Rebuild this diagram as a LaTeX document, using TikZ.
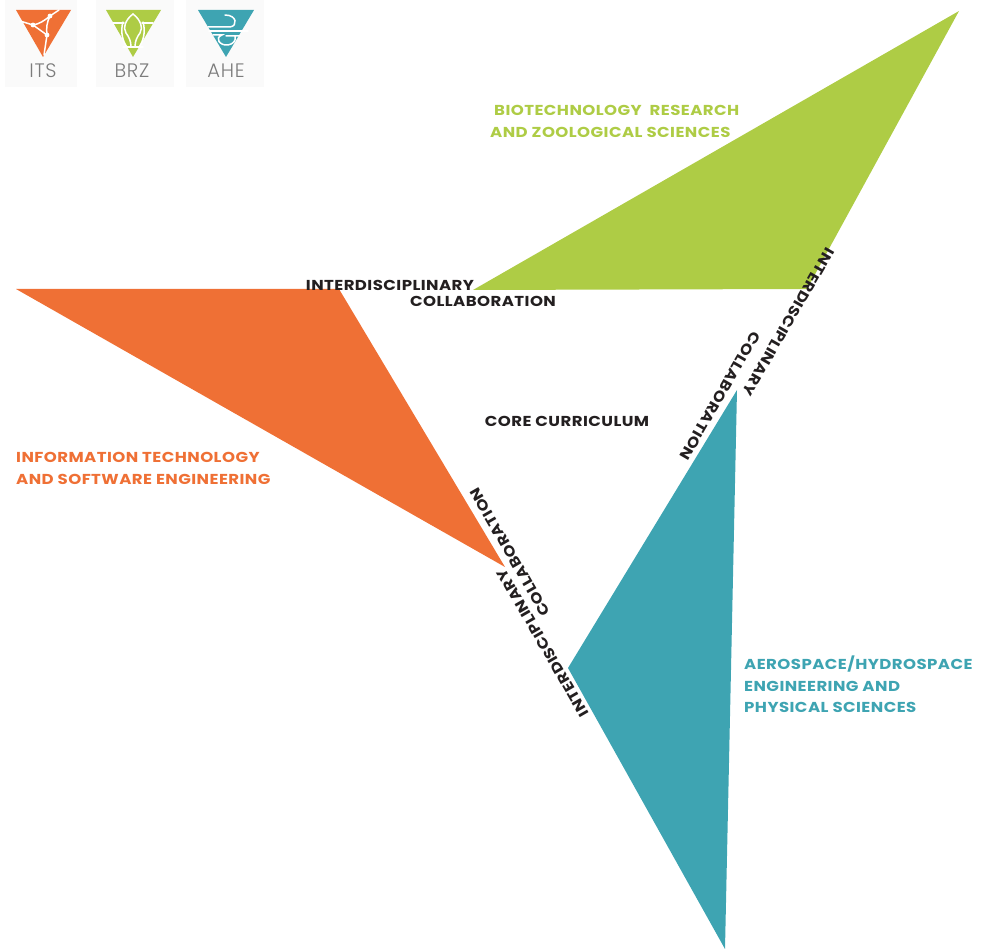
\documentclass[tikz,border=0pt]{standalone}
\usepackage{fontspec}
\setmainfont{Poppins}[BoldFont=Poppins SemiBold]
\newfontfamily\lblfont{Poppins Bold}[LetterSpace=3,FakeStretch=1.15]
\newfontfamily\logofont{Poppins Light}[LetterSpace=4]
\definecolor{itsorange}{HTML}{EF7035}
\definecolor{brzgreen}{HTML}{AECC45}
\definecolor{ahe}{HTML}{3EA4B2}
\definecolor{ink}{HTML}{231F20}
\definecolor{logogray}{HTML}{7C7C7C}
\tikzset{
  lbl/.style={font=\lblfont\fontsize{14.4}{21.5}\selectfont, inner sep=0pt, align=left},
  blk/.style={lbl, text=ink},
  wedge/.style={draw=none},
  logobg/.style={fill=black!2, draw=none},
  logotext/.style={font=\logofont\fontsize{19.5}{19.5}\selectfont, text=logogray, inner sep=0pt},
  cut/.style={draw=white, line width=1.5pt, fill=none, line cap=round}
}
\begin{document}
\begin{tikzpicture}[x=1pt,y=-1pt]
\useasboundingbox (0,0) rectangle (986,949);
\fill[wedge, brzgreen] (959,11) -- (473,290) -- (807,289) -- cycle;
\fill[wedge, itsorange] (16,289) -- (339,289) -- (505,567) -- cycle;
\fill[wedge, ahe] (737,390) -- (568,668) -- (725,949) -- cycle;
\fill[logobg] (5,0) rectangle (77,87);
\fill[logobg] (96,0) rectangle (174,87);
\fill[logobg] (186,0) rectangle (264,87);
\fill[itsorange] (16,10) -- (71,10) -- (43,57) -- cycle;
\draw[cut] (59,10) -- (50,16) .. controls (44,21) and (39,24) .. (33,25) -- (47,35) .. controls (46,28) and (47,22) .. (50,16);
\draw[cut] (33,25) -- (20,21);
\draw[cut] (47,35) -- (44,55);
\fill[white] (50,16) circle (2.4) (33,25) circle (2.4) (47,35) circle (2.4);
\fill[brzgreen] (106,10) -- (161,10) -- (133,57) -- cycle;
\draw[cut] (113,23) -- (124,23) (142,23) -- (153,23);
\draw[cut] (133,14) .. controls (125,20) and (123,28) .. (126,33) .. controls (129,37) and (131,41) .. (131,47);
\draw[cut] (133,14) .. controls (141,20) and (143,28) .. (140,33) .. controls (137,37) and (135,41) .. (135,47);
\draw[cut] (123,22) .. controls (120,32) and (123,42) .. (127,47);
\draw[cut] (143,22) .. controls (146,32) and (143,42) .. (139,47);
\draw[cut] (123,47) -- (143,47);
\fill[ahe] (198,10) -- (254,10) -- (226,57) -- cycle;
\draw[cut] (208,27) -- (230,27) .. controls (238,26) and (237,15) .. (225,15);
\draw[cut] (209,31) -- (248,31);
\draw[cut] (213,35) -- (222,35) .. controls (214,38) and (220,46) .. (228,45) .. controls (233,44) and (236,41) .. (235,37) (226,36) -- (240,36);
\node[logotext] (itslogo) at (43,71) {ITS};
\node[logotext] (brzlogo) at (132,71) {BRZ};
\node[logotext] (ahelogo) at (226,71) {AHE};
\node[lbl, text=brzgreen, anchor=north west] (brz) at (490,105.5) {\hspace*{4pt}BIOTECHNOLOGY\ \ RESEARCH\\AND ZOOLOGICAL SCIENCES};
\node[lbl, text=itsorange, anchor=north west] (its) at (16,452.5) {INFORMATION TECHNOLOGY\\AND SOFTWARE ENGINEERING};
\node[lbl, text=ahe, anchor=north west] (ahelbl) at (744,656) {AEROSPACE/HYDROSPACE\\ENGINEERING AND\\PHYSICAL SCIENCES};
\node[blk] (core) at (567,421) {CORE CURRICULUM};
\node[blk] (t1a) at (390,285) {INTERDISCIPLINARY};
\node[blk] (t1b) at (483,301) {COLLABORATION};
\node[blk, rotate=240] (t2a) at (788.5,322) {INTERDISCIPLINARY};
\node[blk, rotate=240] (t2b) at (720,396) {COLLABORATION};
\node[blk, rotate=120] (t3a) at (543,643) {INTERDISCIPLINARY};
\node[blk, rotate=120] (t3b) at (510,552) {COLLABORATION};
\end{tikzpicture}
\end{document}
